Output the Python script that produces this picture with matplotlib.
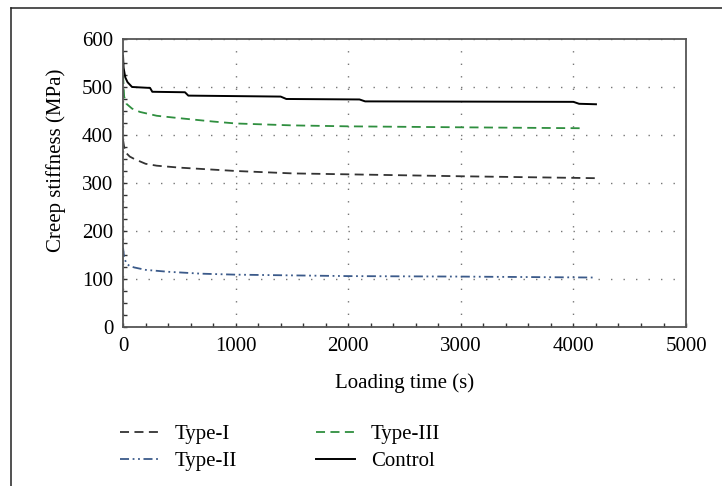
import matplotlib.pyplot as plt
from matplotlib.lines import Line2D
from matplotlib.ticker import MultipleLocator

plt.rcParams['font.family'] = ['Liberation Serif', 'DejaVu Serif']

# Data
t_type1 = [0, 10, 30, 60, 100, 200, 300, 500, 1000, 1500, 2000, 3000, 4200]
v_type1 = [390, 375, 362, 355, 350, 340, 336, 332, 325, 320, 318, 314, 310]

t_type2 = [0, 10, 30, 60, 100, 200, 400, 700, 1000, 2000, 3000, 4200]
v_type2 = [165, 145, 132, 127, 124, 119, 115, 111, 109, 106, 105, 103]

t_type3 = [0, 10, 30, 80, 150, 300, 500, 800, 1000, 1500, 2000, 3000, 4100]
v_type3 = [525, 480, 465, 455, 448, 440, 435, 428, 424, 420, 418, 416, 414]

t_ctrl = [0, 5, 20, 40, 80, 240, 260, 550, 580, 1400, 1450, 2100, 2150, 4000, 4050, 4200]
v_ctrl = [565, 540, 520, 510, 500, 498, 490, 489, 482, 480, 475, 474, 470, 469, 465, 464]

fig = plt.figure(figsize=(7.22, 4.86), dpi=100)
ax = fig.add_axes([0.1704, 0.3272, 0.7798, 0.5926])

ax.plot(t_type1, v_type1, color='#333333', lw=1.3, ls=(0, (5, 3)), label='Type-I')
ax.plot(t_type2, v_type2, color='#3b5a8a', lw=1.3, ls=(0, (5, 2, 1, 2, 1, 2)), label='Type-II')
ax.plot(t_type3, v_type3, color='#2f8f3f', lw=1.3, ls=(0, (5, 3)), label='Type-III')
ax.plot(t_ctrl, v_ctrl, color='black', lw=1.4, label='Control')

ax.set_xlim(0, 5000)
ax.set_ylim(0, 600)
ax.xaxis.set_major_locator(MultipleLocator(1000))
ax.xaxis.set_minor_locator(MultipleLocator(200))
ax.yaxis.set_major_locator(MultipleLocator(100))
ax.yaxis.set_minor_locator(MultipleLocator(25))
ax.tick_params(which='both', direction='in', length=3, width=1, color='#333333',
               labelsize=15, top=False, right=False)
ax.tick_params(axis='x', pad=7)
ax.tick_params(axis='y', pad=7)
ax.grid(True, which='major', color='#777777', lw=1, ls=(0, (1, 8)))
for s in ax.spines.values():
    s.set_color('#555555')
    s.set_linewidth(1.3)

ax.set_xlabel('Loading time (s)', fontsize=15, labelpad=13)
ax.set_ylabel('Creep stiffness (MPa)', fontsize=15)
ax.yaxis.set_label_coords(-0.101, 0.58)

fig.legend(loc='upper left', bbox_to_anchor=(0.166, 0.126), ncol=2, frameon=False,
           fontsize=15, handlelength=1.87, handletextpad=0.75, columnspacing=3.82,
           labelspacing=0.35, borderpad=0, borderaxespad=0)

# partial frame around the figure
fig.add_artist(Line2D([0.0152, 1.0], [0.9835, 0.9835], transform=fig.transFigure,
                      color='#222222', lw=1.1))
fig.add_artist(Line2D([0.0152, 0.0152], [0.0, 0.9835], transform=fig.transFigure,
                      color='#222222', lw=1.1))

fig.savefig('out.png', dpi=100)
